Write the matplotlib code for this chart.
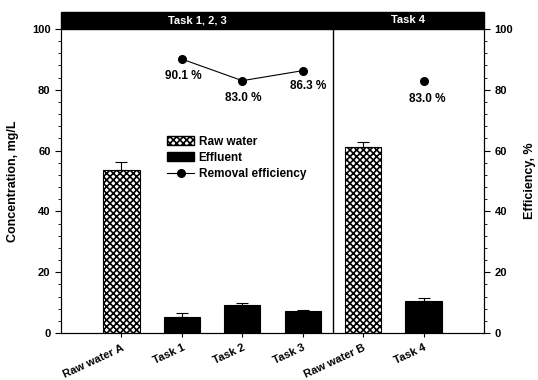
import matplotlib
matplotlib.use("Agg")
import matplotlib.pyplot as plt
import numpy as np
from matplotlib.lines import Line2D
from matplotlib.patches import Patch, Rectangle
from matplotlib.ticker import MultipleLocator

plt.rcParams["font.family"] = ["Liberation Sans", "DejaVu Sans"]
plt.rcParams["font.weight"] = "bold"
plt.rcParams["hatch.linewidth"] = 1.2

categories = ["Raw water A", "Task 1", "Task 2", "Task 3", "Raw water B", "Task 4"]
concentration = [53.6, 5.3, 9.1, 7.3, 61.3, 10.4]
conc_err = [2.7, 1.4, 0.7, 0.2, 1.6, 1.0]
is_raw = [True, False, False, False, True, False]
efficiency = [np.nan, 90.1, 83.0, 86.3, np.nan, 83.0]
eff_labels = ["", "90.1 %", "83.0 %", "86.3 %", "", "83.0 %"]
groups = ["Task 1, 2, 3", "Task 4"]

x = np.arange(len(categories))

fig = plt.figure(figsize=(5.38, 3.80), dpi=100)
ax = fig.add_axes([0.1134, 0.1237, 0.7862, 0.8])
ax2 = ax.twinx()

for xi, val, err, raw in zip(x, concentration, conc_err, is_raw):
    if raw:
        ax.bar(xi, val, 0.6, color="white", edgecolor="black", hatch="xxxxx", linewidth=0.8)
    else:
        ax.bar(xi, val, 0.6, color="black", edgecolor="black", linewidth=0.8)
    ax.errorbar(xi, val, yerr=[[0], [err]], fmt="none", ecolor="black",
                elinewidth=0.8, capsize=4, capthick=0.8)

ax2.plot(x, efficiency, "-o", color="black", markersize=5.5, linewidth=0.8)
offsets = {1: (1.4, -12.2), 2: (0.7, -12.2), 3: (3.6, -11), 5: (3, -13)}
for xi, val, lab in zip(x, efficiency, eff_labels):
    if lab:
        dx, dy = offsets[int(xi)]
        ax2.annotate(lab, xy=(xi, val), xytext=(dx, dy), textcoords="offset points",
                     ha="center", va="center", fontsize=8.5, fontweight="bold")

ax.axvline(3.5, color="black", linewidth=1.0)

for a in (ax, ax2):
    a.set_ylim(0, 100)
    a.yaxis.set_major_locator(MultipleLocator(20))
    a.yaxis.set_minor_locator(MultipleLocator(4))
    a.tick_params(axis="y", which="major", direction="out", length=4, labelsize=8)
    a.tick_params(axis="y", which="minor", direction="out", length=2)
    a.spines["top"].set_visible(False)
ax.set_xlim(-1, 6)
ax.set_xticks(x)
ax.set_xticklabels(categories, rotation=25, ha="right", rotation_mode="anchor", fontsize=8)
ax.tick_params(axis="x", direction="out", length=3, pad=4)

ax.set_ylabel("Concentration, mg/L", fontsize=9, fontweight="bold", labelpad=9)
ax2.set_ylabel("Efficiency, %", fontsize=9, fontweight="bold", labelpad=8)

# group band on top of the plot
band_h = 17 / 304
bounds = [(-1, 3.5), (3.5, 6)]
for (x0, x1), name in zip(bounds, groups):
    ax.add_patch(Rectangle((x0, 1.0), x1 - x0, band_h, transform=ax.get_xaxis_transform(),
                           facecolor="black", edgecolor="black", clip_on=False))
    ax.text((x0 + x1) / 2, 1.0 + band_h / 2, name, transform=ax.get_xaxis_transform(),
            color="white", ha="center", va="center", fontsize=8, fontweight="bold")

handles = [
    Patch(facecolor="white", edgecolor="black", hatch="xxxxx", label="Raw water"),
    Patch(facecolor="black", edgecolor="black", label="Effluent"),
    Line2D([0], [0], color="black", marker="o", markersize=5.5, linewidth=0.8,
           label="Removal efficiency"),
]
ax2.legend(handles=handles, loc="upper left", bbox_to_anchor=(0.24, 0.665), frameon=False,
           fontsize=8.5, handlelength=2.3, handleheight=0.75, labelspacing=0.35,
           handletextpad=0.35, borderaxespad=0)

fig.savefig("out.png", dpi=100)
